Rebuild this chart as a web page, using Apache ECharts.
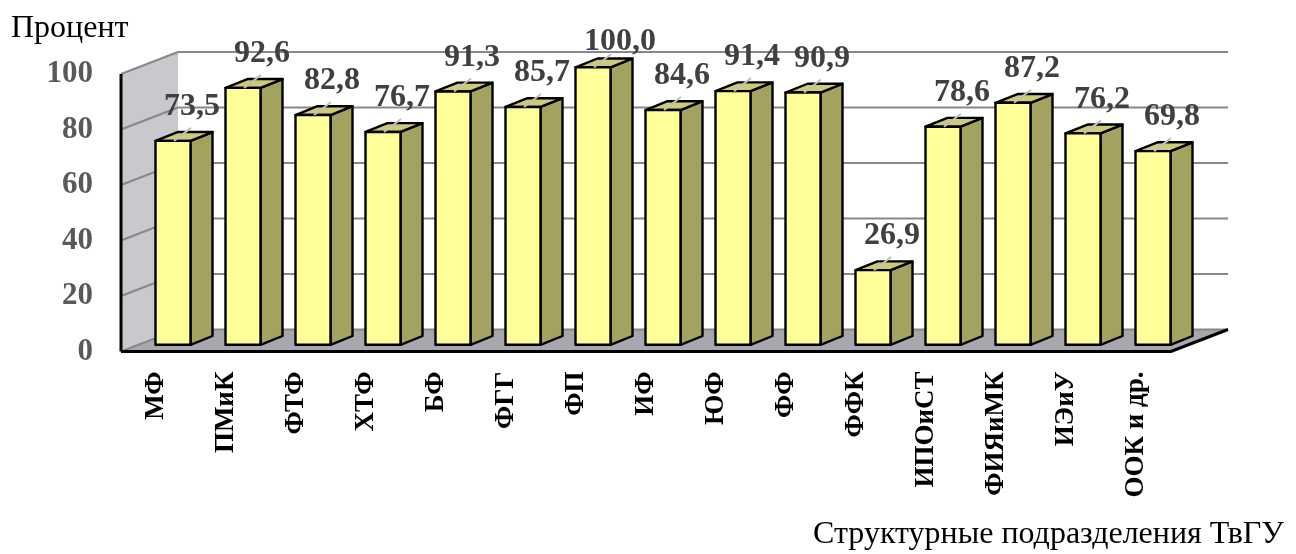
<!DOCTYPE html>
<html><head><meta charset="utf-8">
<script src="https://cdn.jsdelivr.net/npm/echarts/dist/echarts.min.js"></script>
<style>html,body{margin:0;padding:0;background:#fff}#c{width:1296px;height:554px}</style>
</head><body><div id="c"></div>
<script>
// ---- data ----
const categories = ['МФ','ПМиК','ФТФ','ХТФ','БФ','ФГГ','ФП','ИФ','ЮФ','ФФ','ФФК','ИПОиСТ','ФИЯиМК','ИЭиУ','ООК и др.'];
const values = [73.5, 92.6, 82.8, 76.7, 91.3, 85.7, 100.0, 84.6, 91.4, 90.9, 26.9, 78.6, 87.2, 76.2, 69.8];
const yTicks = [0, 20, 40, 60, 80, 100];
const yAxisTitle = 'Процент';
const xAxisTitle = 'Структурные подразделения ТвГУ';

// ---- style / pseudo-3D geometry ----
const FONT = "'Times New Roman', 'Liberation Serif', serif";
const DEPTH = [57, -22];      // full floor depth (front -> back wall)
const BAR_OFF = [17, -6.7];   // bar front face offset from front plane
const BAR_DEPTH = [22, -8.8]; // bar depth
const BAR_W = 35;
const fmt = v => v.toFixed(1).replace('.', ',');

const chart = echarts.init(document.getElementById('c'));

function wallsRender(params, api) {
  if (params.dataIndex !== 0) return;
  const cs = params.coordSys;
  const x0 = cs.x, x1 = cs.x + cs.width;
  const yb = api.coord([0, yTicks[0]])[1];
  const yt = api.coord([0, yTicks[yTicks.length - 1]])[1];
  const DX = DEPTH[0], DY = DEPTH[1];
  const ch = [];
  ch.push({type: 'polygon', shape: {points: [[x0, yt], [x0 + DX, yt + DY], [x0 + DX, yb + DY], [x0, yb]]},
    style: {fill: '#c9c8cd', stroke: null}});
  ch.push({type: 'polygon', shape: {points: [[x0, yb], [x1, yb], [x1 + DX, yb + DY], [x0 + DX, yb + DY]]},
    style: {fill: '#a9a7ae', stroke: null}});
  yTicks.forEach(v => {
    const y = api.coord([0, v])[1];
    ch.push({type: 'line', shape: {x1: x0 + DX, y1: y + DY, x2: x1 + DX, y2: y + DY},
      style: {stroke: '#888888', lineWidth: 2}});
    ch.push({type: 'line', shape: {x1: x0, y1: y, x2: x0 + DX, y2: y + DY},
      style: {stroke: '#888888', lineWidth: 2}});
  });
  ch.push({type: 'line', shape: {x1: x0, y1: yt, x2: x0, y2: yb}, style: {stroke: '#000', lineWidth: 3}});
  ch.push({type: 'polyline', shape: {points: [[x0, yb], [x1, yb], [x1 + DX, yb + DY]]},
    style: {stroke: '#000', lineWidth: 3, fill: null}});
  return {type: 'group', children: ch};
}

function barRender(params, api) {
  const i = api.value(0), v = api.value(1);
  const p0 = api.coord([i, 0]);
  const p1 = api.coord([i, v]);
  const L = p0[0] - BAR_W / 2 + BAR_OFF[0];
  const R = L + BAR_W;
  const B = p0[1] + BAR_OFF[1];
  const T = p1[1] + BAR_OFF[1];
  const dx = BAR_DEPTH[0], dy = BAR_DEPTH[1];
  const st = {stroke: '#000', lineWidth: 2.4, lineJoin: 'round'};
  return {type: 'group', children: [
    {type: 'polygon', shape: {points: [[R, B], [R + dx, B + dy], [R + dx, T + dy], [R, T]]},
      style: Object.assign({fill: '#a4a25f'}, st)},
    {type: 'polygon', shape: {points: [[L, T], [R, T], [R + dx, T + dy], [L + dx, T + dy]]},
      style: Object.assign({fill: '#cdcb78'}, st)},
    {type: 'polygon', shape: {points: [[L, B], [R, B], [R, T], [L, T]]},
      style: Object.assign({fill: '#ffff99'}, st)}
  ]};
}

function labelRender(params, api) {
  const i = api.value(0), v = api.value(1);
  const p1 = api.coord([i, v]);
  const cx = p1[0] + BAR_OFF[0];
  const T = p1[1] + BAR_OFF[1];
  const ty = Math.max(T - 34, 42);
  return {type: 'group', children: [
    {type: 'line', shape: {x1: cx + 1, y1: T, x2: cx + 18, y2: T - 13},
      style: {stroke: '#bfbfbf', lineWidth: 2}},
    {type: 'text', x: cx - 9, y: ty,
      style: {text: fmt(v), fill: '#404040', font: 'bold 32px ' + FONT,
        textAlign: 'left', textVerticalAlign: 'middle'}}
  ]};
}

const barData = values.map((v, i) => [i, v]);

chart.setOption({
  animation: false,
  backgroundColor: '#fff',
  title: [
    {text: yAxisTitle, left: 6, top: 8,
      textStyle: {fontFamily: FONT, fontWeight: 'normal', fontSize: 32, color: '#000'}},
    {text: xAxisTitle, right: 7, bottom: -2,
      textStyle: {fontFamily: FONT, fontWeight: 'normal', fontSize: 32, color: '#000'}}
  ],
  grid: {left: 121, top: 74, width: 1050, height: 277.5},
  xAxis: {
    type: 'category', data: categories, boundaryGap: true,
    axisLine: {show: false}, axisTick: {show: false}, splitLine: {show: false},
    axisLabel: {rotate: 90, margin: 20, interval: 0, fontFamily: FONT, fontWeight: 'bold', fontSize: 27, color: '#000'}
  },
  yAxis: {
    type: 'value', min: 0, max: 100, interval: 20,
    axisLine: {show: false}, axisTick: {show: false}, splitLine: {show: false},
    axisLabel: {margin: 28, fontFamily: FONT, fontWeight: 'bold', fontSize: 31, color: '#595959'}
  },
  series: [
    {type: 'custom', name: 'walls', renderItem: wallsRender, data: [[0, 0]], z: 1, silent: true, clip: false},
    {type: 'custom', name: 'bars', renderItem: barRender, data: barData, encode: {x: 0, y: 1}, z: 2, clip: false},
    {type: 'custom', name: 'labels', renderItem: labelRender, data: barData, encode: {x: 0, y: 1}, z: 3, clip: false, silent: true}
  ]
});
</script>
</body></html>
